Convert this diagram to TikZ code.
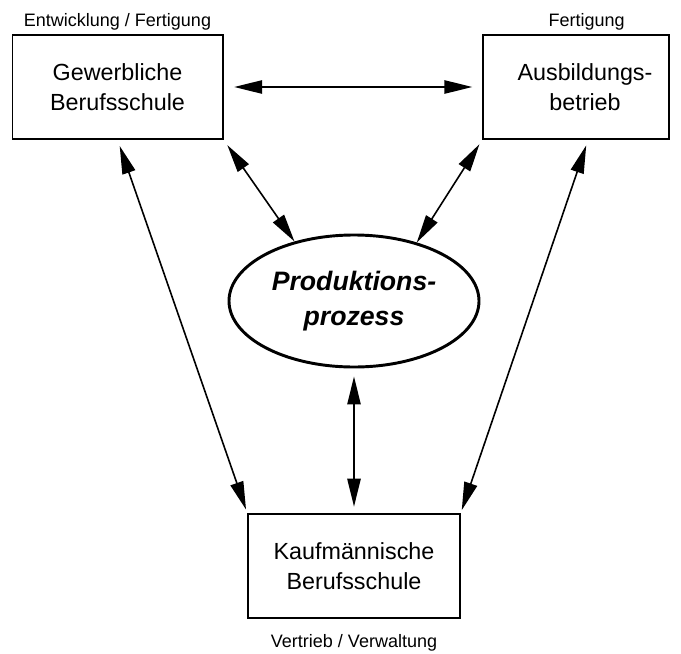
\documentclass[tikz,border=0pt]{standalone}
\usepackage{fontspec}
\setmainfont{Liberation Sans}
\usetikzlibrary{arrows.meta,shapes.geometric,positioning}

\begin{document}
\begin{tikzpicture}[x=0.75pt,y=0.75pt,yscale=-1,xscale=1,
	box/.style={draw, line width=1pt, minimum height=78pt, inner sep=0pt, align=center, font=\fontsize{17.5}{22.5}\selectfont},
	boxtext/.style={inner sep=0pt, align=center, font=\fontsize{17.5}{22.5}\selectfont},
	lbl/.style={inner sep=0pt, font=\fontsize{13.5}{16}\selectfont},
	both/.style={{Triangle[length=21pt,width=10pt]}-{Triangle[length=21pt,width=10pt]}, line width=1.2pt}]
	\useasboundingbox (0,0) rectangle (681,653);

	%Shape: Rectangle [id:gbs]
	\node [box, minimum width=158pt] (gbs) at (117.5,87) {Gewerbliche\\Berufsschule};
	%Shape: Rectangle [id:ab]
	\node [box, minimum width=139.5pt] (ab) at (576,87) {};
	\node [boxtext] (abt) at (585,87) {Ausbildungs-\\betrieb};
	%Shape: Rectangle [id:kbs]
	\node [box, minimum width=159pt] (kbs) at (354,566) {Kaufm\"annische\\Berufsschule};
	%Shape: Ellipse [id:pp]
	\node [ellipse, draw, line width=2.2pt, minimum width=187.5pt, minimum height=99pt, inner sep=0pt, align=center, font=\fontsize{20}{26}\selectfont\bfseries\itshape] (pp) at (354,301) {Produktions-\\prozess};

	% Text Node
	\node [lbl, above=3pt of gbs] (gbsl) {Entwicklung / Fertigung};
	% Text Node
	\node [lbl, above=3pt of ab, xshift=8pt] (abl) {Fertigung};
	% Text Node
	\node [lbl, below=12pt of kbs] (kbsl) {Vertrieb / Verwaltung};

	%Straight Lines [id:gbs-ab]
	\draw [both, shorten <=8pt, shorten >=7.5pt] (gbs.east) -- (ab.west);
	%Straight Lines [id:gbs-pp]
	\draw [both, shorten <=5pt] (gbs.south east) -- (pp.135);
	%Straight Lines [id:ab-pp]
	\draw [both, shorten <=4pt] (ab.south west) -- (pp.43);
	%Straight Lines [id:pp-kbs]
	\draw [both, shorten <=6pt, shorten >=5pt] (pp.south) -- (kbs.north);
	%Straight Lines [id:gbs-kbs]
	\draw [both, shorten <=5pt, shorten >=3pt] (gbs.south) -- (kbs.north west);
	%Straight Lines [id:ab-kbs]
	\draw [both, shorten <=4.5pt, shorten >=2.5pt] (ab.-77) -- (kbs.north east);

\end{tikzpicture}
\end{document}
